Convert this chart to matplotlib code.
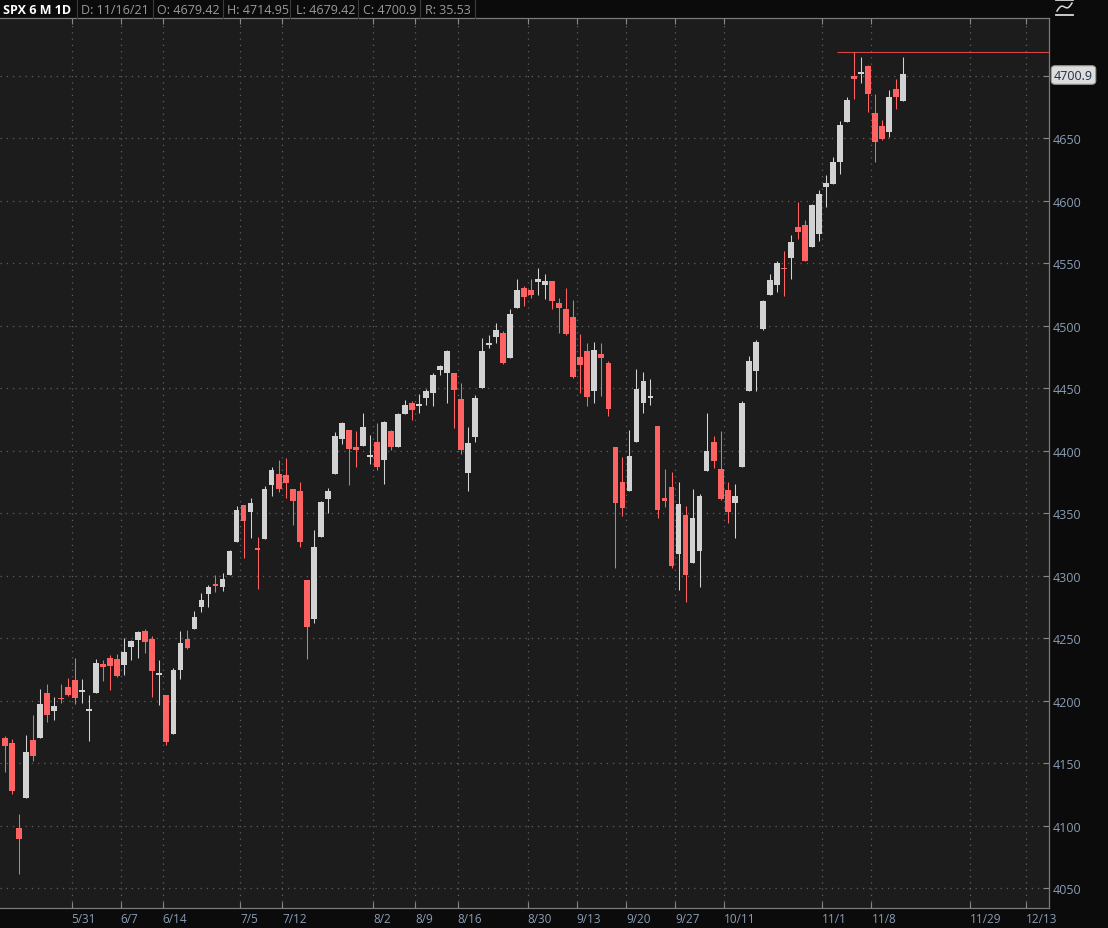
"""SPX 6 M 1D candlestick chart, dark thinkorswim style, written to out.png."""
import matplotlib
matplotlib.use('Agg')
import matplotlib.pyplot as plt
import numpy as np
from matplotlib.lines import Line2D

W, H = 1108, 929

# one entry per trading day, 5/17/21 .. 11/16/21
dates = [
    '5/17', '5/18', '5/19', '5/20', '5/21', '5/24', '5/25', '5/26', '5/27', '5/28',
    '6/1', '6/2', '6/3', '6/4', '6/7', '6/8', '6/9', '6/10', '6/11', '6/14',
    '6/15', '6/16', '6/17', '6/18', '6/21', '6/22', '6/23', '6/24', '6/25', '6/28',
    '6/29', '6/30', '7/1', '7/2', '7/6', '7/7', '7/8', '7/9', '7/12', '7/13',
    '7/14', '7/15', '7/16', '7/19', '7/20', '7/21', '7/22', '7/23', '7/26', '7/27',
    '7/28', '7/29', '7/30', '8/2', '8/3', '8/4', '8/5', '8/6', '8/9', '8/10',
    '8/11', '8/12', '8/13', '8/16', '8/17', '8/18', '8/19', '8/20', '8/23', '8/24',
    '8/25', '8/26', '8/27', '8/30', '8/31', '9/1', '9/2', '9/3', '9/7', '9/8',
    '9/9', '9/10', '9/13', '9/14', '9/15', '9/16', '9/17', '9/20', '9/21', '9/22',
    '9/23', '9/24', '9/27', '9/28', '9/29', '9/30', '10/1', '10/4', '10/5', '10/6',
    '10/7', '10/8', '10/11', '10/12', '10/13', '10/14', '10/15', '10/18', '10/19', '10/20',
    '10/21', '10/22', '10/25', '10/26', '10/27', '10/28', '10/29', '11/1', '11/2', '11/3',
    '11/4', '11/5', '11/8', '11/9', '11/10', '11/11', '11/12', '11/15', '11/16',
]
opens = [
    4169.9, 4165.9, 4098.0, 4122.0, 4168.6, 4170.2, 4205.9, 4191.6, 4201.9, 4210.8,
    4216.5, 4206.8, 4191.4, 4206.1, 4229.3, 4233.8, 4233.0, 4228.6, 4242.9, 4248.3,
    4255.3, 4248.9, 4220.4, 4204.8, 4173.4, 4224.6, 4249.3, 4257.0, 4274.5, 4284.9,
    4293.2, 4290.7, 4300.7, 4326.6, 4356.5, 4351.0, 4321.1, 4329.4, 4372.4, 4381.1,
    4380.1, 4369.0, 4367.4, 4296.4, 4265.1, 4331.1, 4361.3, 4381.2, 4409.6, 4416.4,
    4403.0, 4403.6, 4395.1, 4406.9, 4392.7, 4416.0, 4403.2, 4429.1, 4437.8, 4435.8,
    4442.2, 4446.1, 4464.8, 4461.7, 4462.1, 4440.9, 4382.4, 4410.6, 4450.3, 4484.4,
    4490.5, 4493.8, 4474.1, 4513.8, 4529.8, 4528.8, 4534.5, 4532.4, 4535.4, 4518.1,
    4513.0, 4506.9, 4474.8, 4479.3, 4447.5, 4477.1, 4469.7, 4403.0, 4374.5, 4367.4,
    4406.8, 4438.0, 4442.1, 4419.5, 4362.4, 4370.7, 4317.2, 4348.8, 4309.9, 4319.6,
    4383.7, 4406.5, 4385.4, 4368.3, 4358.0, 4386.8, 4447.7, 4463.7, 4497.3, 4524.4,
    4532.2, 4546.1, 4553.7, 4578.7, 4580.2, 4562.8, 4572.9, 4610.6, 4613.3, 4630.7,
    4662.9, 4699.3, 4701.5, 4707.3, 4670.3, 4659.4, 4655.2, 4689.3, 4679.42,
]
highs = [
    4171.9, 4169.1, 4109.0, 4172.8, 4188.7, 4209.5, 4213.4, 4202.6, 4213.4, 4218.4,
    4234.1, 4217.4, 4204.4, 4233.5, 4232.3, 4236.7, 4237.1, 4249.7, 4248.4, 4255.6,
    4257.2, 4251.9, 4232.3, 4204.8, 4226.2, 4255.8, 4256.6, 4271.3, 4286.1, 4292.1,
    4300.5, 4302.4, 4320.7, 4355.4, 4356.5, 4361.9, 4330.9, 4371.6, 4386.7, 4392.4,
    4393.7, 4369.0, 4375.1, 4296.4, 4336.8, 4359.7, 4369.9, 4415.2, 4422.7, 4416.4,
    4415.5, 4430.0, 4412.3, 4422.2, 4423.8, 4416.2, 4430.0, 4440.8, 4439.4, 4445.2,
    4449.4, 4461.8, 4468.4, 4480.3, 4462.1, 4454.3, 4418.6, 4444.4, 4489.9, 4492.8,
    4501.7, 4495.9, 4513.3, 4537.4, 4531.4, 4537.1, 4545.9, 4541.5, 4535.4, 4521.8,
    4529.9, 4520.5, 4493.0, 4485.7, 4486.9, 4485.9, 4471.5, 4403.0, 4394.9, 4416.8,
    4465.4, 4463.1, 4457.3, 4419.5, 4385.6, 4382.6, 4375.2, 4355.5, 4369.2, 4365.6,
    4430.0, 4412.0, 4415.9, 4374.9, 4372.9, 4439.7, 4475.8, 4488.8, 4520.4, 4540.9,
    4551.4, 4559.7, 4572.6, 4598.5, 4584.6, 4597.6, 4608.1, 4620.3, 4635.2, 4663.5,
    4683.0, 4718.5, 4714.9, 4708.5, 4684.9, 4664.6, 4688.5, 4697.4, 4714.95,
]
lows = [
    4142.7, 4125.0, 4061.0, 4122.0, 4151.7, 4170.2, 4182.5, 4184.1, 4197.8, 4203.6,
    4197.6, 4198.3, 4167.9, 4206.1, 4215.7, 4208.4, 4218.7, 4220.3, 4232.3, 4234.1,
    4238.4, 4202.5, 4196.1, 4164.4, 4173.4, 4217.3, 4241.4, 4257.0, 4271.2, 4274.7,
    4287.0, 4288.0, 4300.7, 4326.6, 4314.4, 4329.8, 4289.4, 4329.4, 4364.0, 4366.9,
    4362.4, 4340.7, 4322.5, 4233.1, 4262.1, 4331.1, 4350.1, 4381.2, 4405.5, 4372.5,
    4387.0, 4403.6, 4389.2, 4384.8, 4373.0, 4400.2, 4403.2, 4429.1, 4424.7, 4430.0,
    4436.4, 4436.0, 4460.8, 4437.7, 4417.8, 4397.6, 4367.7, 4406.8, 4450.3, 4482.3,
    4485.7, 4469.0, 4474.1, 4513.8, 4515.8, 4522.0, 4524.7, 4521.5, 4513.0, 4494.0,
    4492.1, 4457.7, 4445.7, 4435.5, 4438.4, 4443.8, 4427.8, 4305.9, 4348.0, 4367.4,
    4406.8, 4430.3, 4436.2, 4346.3, 4355.1, 4306.2, 4288.5, 4278.9, 4309.9, 4290.5,
    4383.7, 4386.2, 4360.6, 4342.1, 4329.9, 4386.8, 4447.7, 4447.5, 4496.4, 4524.4,
    4526.9, 4524.0, 4537.4, 4569.2, 4551.7, 4562.8, 4567.6, 4595.1, 4613.3, 4621.2,
    4662.6, 4681.3, 4694.4, 4670.9, 4630.9, 4648.3, 4650.8, 4672.9, 4679.42,
]
closes = [
    4163.3, 4127.8, 4089.0, 4159.1, 4155.9, 4197.1, 4188.1, 4196.0, 4200.9, 4204.1,
    4202.0, 4208.1, 4192.9, 4229.9, 4226.5, 4227.3, 4219.6, 4239.2, 4247.4, 4255.2,
    4246.6, 4223.7, 4221.9, 4166.5, 4224.8, 4246.4, 4241.8, 4266.5, 4280.7, 4290.6,
    4291.8, 4297.5, 4319.9, 4352.3, 4343.5, 4358.1, 4320.8, 4369.6, 4384.6, 4369.2,
    4374.3, 4360.0, 4327.2, 4258.5, 4323.1, 4358.7, 4367.5, 4411.8, 4422.3, 4401.5,
    4400.6, 4419.2, 4395.3, 4387.2, 4423.2, 4402.7, 4429.1, 4436.5, 4432.4, 4436.8,
    4447.7, 4460.8, 4468.0, 4479.7, 4448.1, 4400.3, 4405.8, 4441.7, 4479.5, 4486.2,
    4496.2, 4470.0, 4509.4, 4528.8, 4522.7, 4524.1, 4537.0, 4535.4, 4520.0, 4514.1,
    4493.3, 4458.6, 4468.7, 4443.1, 4480.7, 4473.8, 4433.0, 4357.7, 4354.2, 4395.6,
    4449.0, 4455.5, 4443.1, 4352.6, 4359.5, 4307.5, 4357.0, 4300.5, 4345.7, 4363.6,
    4399.8, 4391.3, 4361.2, 4350.7, 4363.8, 4438.3, 4471.4, 4486.5, 4519.6, 4536.2,
    4549.8, 4544.9, 4566.5, 4574.8, 4551.7, 4596.4, 4605.4, 4613.7, 4630.7, 4660.6,
    4680.1, 4697.5, 4701.7, 4685.3, 4646.7, 4649.3, 4682.9, 4682.8, 4700.9,
]

# x-axis date labels and where thinkorswim puts them (in bar units)
tick_labels = ['5/31', '6/7', '6/14', '7/5', '7/12', '8/2', '8/9', '8/16', '8/30',
               '9/13', '9/20', '9/27', '10/11', '11/1', '11/8', '11/29', '12/13']
tick_pos = [9.5, 16.5, 22.5, 33.5, 39.5, 52.5, 58.5, 64.5, 74.5,
            81.5, 88.5, 95.5, 102.5, 116.5, 123.5, 137.5, 145.5]
price_ticks = list(range(4050, 4701, 50))

header = ['D: 11/16/21', 'O: 4679.42', 'H: 4714.95', 'L: 4679.42', 'C: 4700.9', 'R: 35.53']
last_price = 4700.9
high_line = 4718.5

BG = '#1c1c1c'
UP = '#d2d2d2'
DOWN = '#ff6262'
AXIS_TXT = '#8a9cb4'
FONT = 'Open Sans'


def draw_candles(ax):
    o = np.array(opens); h = np.array(highs)
    l = np.array(lows); c = np.array(closes)
    x = np.arange(len(o))
    col = np.where(c >= o, UP, DOWN)
    ax.vlines(x, l, h, colors=col, linewidth=0.75, zorder=3)
    bottom = np.minimum(o, c)
    height = np.maximum(np.abs(c - o), 1.5)
    ax.bar(x, height, bottom=bottom, width=0.82, color=col,
           linewidth=0, zorder=4)


def draw_icon(fig):
    """Tiny study icon in the top right corner (wave over a base line)."""
    u = np.linspace(0, 1, 40)
    ix = 1057 + 15 * u
    iy = 12 - 8 * u - 2.5 * np.sin(2 * np.pi * u)
    c = '#d8d8d8'
    fig.add_artist(Line2D(ix / W, 1 - iy / H, color=c, linewidth=1.1))
    fig.add_artist(Line2D([1056 / W, 1073 / W], [1 - 15.5 / H] * 2, color=c, linewidth=1.3))
    fig.add_artist(Line2D([1056 / W, 1073 / W], [1 - 0.8 / H] * 2, color=c, linewidth=1.3))


def main():
    fig = plt.figure(figsize=(W / 100, H / 100), dpi=100, facecolor='#0b0b0b')
    ax = fig.add_axes([0, 20 / H, 1049 / W, 889.7 / H])
    ax.set_facecolor(BG)

    draw_candles(ax)
    ax.hlines(high_line, 118.6, 149, color='#d84444', linewidth=0.8, zorder=2)

    ax.set_xlim(-0.713, 148.8)
    ax.set_ylim(4034, 4745.8)

    ax.set_xticks(tick_pos)
    ax.set_xticklabels(tick_labels, fontsize=8.5, color=AXIS_TXT,
                       family=FONT, ha='left')
    ax.set_yticks(price_ticks)
    ax.set_yticklabels([str(v) if v != 4700 else '' for v in price_ticks],
                       fontsize=9, color=AXIS_TXT, family=FONT)
    ax.yaxis.tick_right()
    ax.tick_params(axis='y', direction='in', length=4, width=0.8,
                   color='#888888', pad=3)
    ax.tick_params(axis='x', direction='in', length=4, width=0.8,
                   color='#888888', pad=3, top=True)

    ax.grid(True, color='#606060', linestyle=(0, (1, 4)), linewidth=0.9)
    ax.set_axisbelow(True)
    ax.spines['left'].set_visible(False)
    for side in ('top', 'bottom', 'right'):
        ax.spines[side].set_color('#7a7a7a')
        ax.spines[side].set_linewidth(0.9)

    # header strip
    fig.text(3 / W, 1 - 10 / H, 'SPX 6 M 1D', color='white', fontsize=9,
             fontweight='bold', family=FONT, va='center', ha='left')
    xs = [81, 157, 227, 296, 363, 425]
    for xx, txt in zip(xs, header):
        fig.text(xx / W, 1 - 10 / H, txt, color='#9a9a9a', fontsize=9,
                 family=FONT, va='center', ha='left')
    for xx in [77, 153, 223, 290, 358, 420, 475]:
        fig.add_artist(Line2D([xx / W, xx / W], [1 - 19 / H, 1], color='#3c3c3c',
                              linewidth=0.8))

    # current price tag on the right axis
    fig.text(1054 / W, 1 - 76 / H, f'{last_price}', color='#1e2d4a', fontsize=9,
             family=FONT, va='center', ha='left',
             bbox=dict(boxstyle='round,pad=0.22,rounding_size=0.3',
                       facecolor='#dcdcdc', edgecolor='#9a9a9a', linewidth=0.8))

    draw_icon(fig)

    fig.savefig('out.png', dpi=100, facecolor=fig.get_facecolor())
    plt.close(fig)


if __name__ == '__main__':
    main()
